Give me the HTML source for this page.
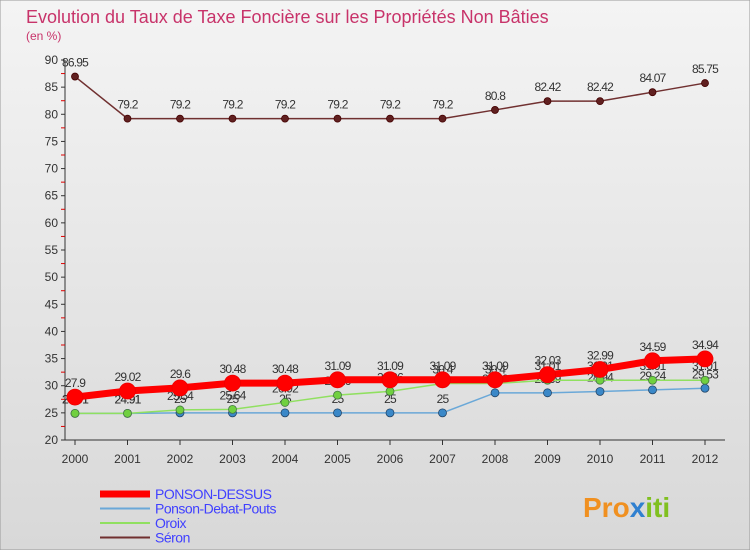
<!DOCTYPE html>
<html><head><meta charset="utf-8"><style>
body{margin:0;width:750px;height:550px;overflow:hidden;font-family:"Liberation Sans",sans-serif}
svg{display:block}
</style></head><body>
<svg id="c" width="750" height="550" xmlns="http://www.w3.org/2000/svg">
<defs><linearGradient id="bg" x1="0" y1="0" x2="0" y2="1"><stop offset="0" stop-color="#f4f4f4"/><stop offset="1" stop-color="#d8d8d8"/></linearGradient></defs>
<rect x="0" y="0" width="750" height="550" fill="url(#bg)" stroke="#999"/>
<text x="26" y="23" font-size="18" fill="#c8336a">Evolution du Taux de Taxe Foncière sur les Propriétés Non Bâties</text>
<text x="26" y="40" font-size="12" fill="#c8336a">(en %)</text>
<g id="axes"></g><g id="series"></g><g id="legend"></g>
<text x="583" y="517" font-size="28" font-weight="bold" fill="#f09020">Pro<tspan fill="#3080d0">x</tspan><tspan fill="#80c020">iti</tspan></text>
</svg>
<script>
const years=[2000,2001,2002,2003,2004,2005,2006,2007,2008,2009,2010,2011,2012];
const yTicks=[20,25,30,35,40,45,50,55,60,65,70,75,80,85,90];
const seronVals=[86.95,79.2,79.2,79.2,79.2,79.2,79.2,79.2,80.8,82.42,82.42,84.07,85.75];
const ponsonVals=[27.9,29.02,29.6,30.48,30.48,31.09,31.09,31.09,31.09,32.03,32.99,34.59,34.94];
const debatVals=[24.91,24.91,25,25,25,25,25,25,28.69,28.69,28.94,29.24,29.53];
const oroixVals=[24.91,24.91,25.54,25.64,26.92,28.26,28.96,30.4,30.4,31.01,31.01,31.01,31.01];
const NS="http://www.w3.org/2000/svg";
const X=i=>75+i*52.5, Y=v=>440-(v-20)*380/70;
function mk(t,a,p){const e=document.createElementNS(NS,t);for(const k in a)e.setAttribute(k,a[k]);p.appendChild(e);return e;}
const ax=document.getElementById('axes');
const yl=mk('line',{x1:65,y1:60,x2:65,y2:440,stroke:'#333'},ax);


const xl=mk('line',{x1:65,y1:440,x2:725,y2:440,stroke:'#333'},ax);


yTicks.forEach(v=>{const t=mk('text',{x:58,y:Y(v)+4,'font-size':12,'text-anchor':'end',fill:'#333'},ax);t.textContent=v;


mk('line',{x1:61,y1:Y(v),x2:65,y2:Y(v),stroke:'#333'},ax);
if(v<90)mk('line',{x1:61,y1:Y(v+2.5),x2:65,y2:Y(v+2.5),stroke:'#d00'},ax);});
years.forEach((y,i)=>{const t=mk('text',{x:X(i),y:463,'font-size':12,'text-anchor':'middle',fill:'#333'},ax);t.textContent=y;


mk('line',{x1:X(i),y1:440,x2:X(i),y2:445,stroke:'#333'},ax);});
const sg=document.getElementById('series');
function series(name,vals,color,w,r,dot,dotStroke){
 const g=mk('g',{},sg);
 
 
 mk('polyline',{points:vals.map((v,i)=>X(i)+','+Y(v)).join(' '),fill:'none',stroke:color,'stroke-width':w},g);
 vals.forEach((v,i)=>{const c=mk('circle',{cx:X(i),cy:Y(v),r:r,fill:dot,stroke:dotStroke,'stroke-width':0.8},g);
 
 
 const t=mk('text',{x:X(i),y:Y(v)-10,'font-size':12,'text-anchor':'middle',fill:'#333','letter-spacing':'-0.8'},g);t.textContent=v;
 
 });
}
series('debat',debatVals,'#6aa8d8',1.5,4,'#3a88c8','#246');
series('oroix',oroixVals,'#90e060',1.5,4,'#70d040','#474');
series('ponson',ponsonVals,'#ff0000',7,8,'#ff0000','#e00');
series('seron',seronVals,'#703030',1.5,3.5,'#602020','#400');
const lg=document.getElementById('legend');
[['PONSON-DESSUS','#ff0000',7,'#4040ff'],['Ponson-Debat-Pouts','#6aa8d8',2,'#4040ff'],['Oroix','#90e060',2,'#4040ff'],['Séron','#703030',2,'#4040ff']].forEach((d,i)=>{
 const y=494+i*14.5;
 const l=mk('line',{x1:100,y1:y,x2:150,y2:y,stroke:d[1],'stroke-width':d[2]},lg);
 
 
 const t=mk('text',{x:155,y:y+5,'font-size':14,fill:d[3],'letter-spacing':'-0.5'},lg);t.textContent=d[0];
 
 
});
</script>
</body></html>
